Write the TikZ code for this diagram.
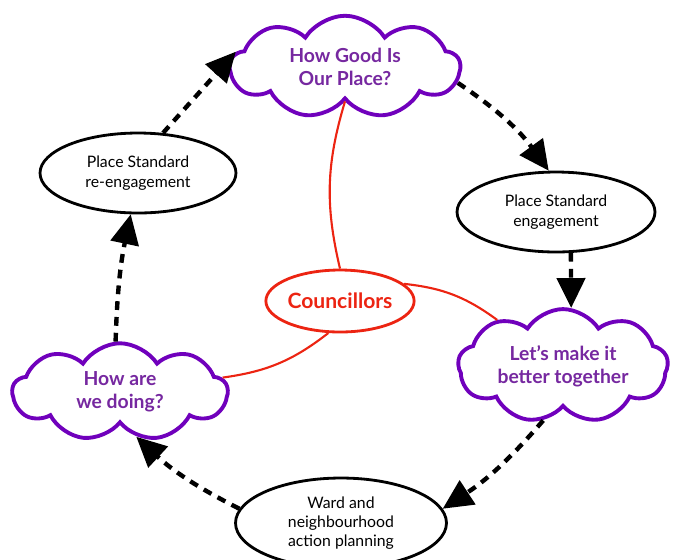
\documentclass[tikz,border=0pt]{standalone}
\usepackage{fontspec}
\setmainfont{Lato}
\usetikzlibrary{shapes.symbols,shapes.geometric,arrows.meta}

\definecolor{cloudpurple}{RGB}{112,0,188}
\definecolor{textpurple}{RGB}{118,40,160}
\definecolor{linkred}{RGB}{236,36,18}

\begin{document}
\begin{tikzpicture}[x=0.02cm,y=-0.02cm]
		\useasboundingbox (0,0) rectangle (675,559);
		
		\begin{scope}[every node/.style={cloud,cloud puffs=9,cloud puff arc=115,aspect=2.2,draw=cloudpurple,line width=2.2pt,fill=white,text=textpurple,font=\bfseries\fontsize{11}{13}\selectfont,align=center,inner sep=0pt}]
			\node[minimum width=4.6cm,minimum height=2.05cm] (good) at (345,67) {How Good Is\\Our Place?};
			\node[minimum width=4.2cm,minimum height=2.15cm] (better) at (563,366) {Let’s make it\\better together};
			\node[minimum width=4.3cm,minimum height=1.95cm] (doing) at (120,392) {How are\\we doing?};
		\end{scope}
		
		\begin{scope}[every node/.style={ellipse,draw,line width=1.6pt,fill=white,font=\fontsize{9}{11}\selectfont,align=center,inner sep=0pt}]
			\node[minimum width=3.92cm,minimum height=1.6cm] (reeng) at (138,173) {Place Standard\\re-engagement};
			\node[minimum width=3.96cm,minimum height=1.6cm] (eng) at (556,212) {Place Standard\\engagement};
			\node[minimum width=4.22cm,minimum height=1.8cm] (ward) at (341,523) {Ward and\\neighbourhood\\action planning};
		\end{scope}
		
		\node[ellipse,draw=linkred,line width=1.6pt,text=linkred,font=\bfseries\fontsize{12}{14}\selectfont,minimum width=2.7cm,minimum height=1.24cm,inner sep=0pt] (coun) at (340,301) {Councillors};
		
		\begin{scope}[linkred,line width=1.2pt]
			\path (coun.north) edge[bend left=15] (good.south);
			\path (coun.15) edge[bend left=15] (better.145);
			\path (coun.-110) edge[bend left=15] (doing.8);
		\end{scope}
		
		\begin{scope}[line width=2.5pt,dash pattern=on 5pt off 4pt,-{Triangle[length=17pt,width=16pt]}]
			\path (good.-8) edge[bend left=10] (eng.100);
			\path (eng.-70) edge (better.82);
			\path (better.-110) edge[bend left=8] (ward.8);
			\path (ward.172) edge[bend left=8] (doing.-70);
			\path (doing.95) edge[bend left=5] (reeng.-100);
			\path (reeng.58) edge (good.172);
		\end{scope}
	\end{tikzpicture}
\end{document}
